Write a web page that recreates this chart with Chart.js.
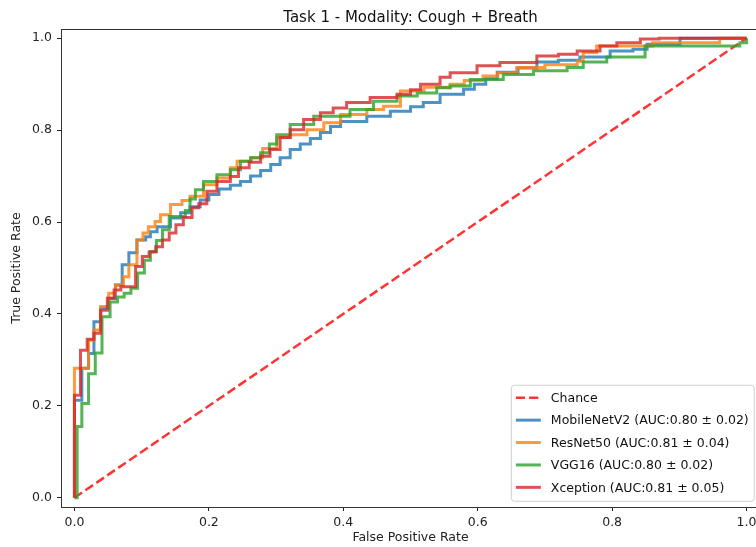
<!DOCTYPE html>
<html>
<head>
<meta charset="utf-8">
<script src="https://cdn.jsdelivr.net/npm/chart.js@4.4.0/dist/chart.umd.min.js"></script>
<style>
  html, body { margin: 0; padding: 0; overflow: hidden; background: #fff; }
  #wrap { width: 770px; height: 547px; }
</style>
</head>
<body>
<div id="wrap"><canvas id="roc_chart" width="770" height="547"></canvas></div>
<script>
// values
const chanceFpr = [0, 1];
const chanceTpr = [0, 1];

const mobilenetFpr = [0, 0, 0.011, 0.021, 0.029, 0.039, 0.051, 0.061, 0.071, 0.081, 0.093, 0.106, 0.113, 0.123, 0.143, 0.158, 0.172, 0.187, 0.200, 0.215, 0.232, 0.247, 0.262, 0.277, 0.292, 0.306, 0.321, 0.336, 0.351, 0.366, 0.381, 0.396, 0.435, 0.470, 0.500, 0.519, 0.544, 0.579, 0.595, 0.612, 0.629, 0.660, 0.688, 0.720, 0.752, 0.797, 0.831, 0.852, 0.901, 1.0];
const mobilenetTpr = [0, 0.212, 0.282, 0.314, 0.383, 0.413, 0.434, 0.463, 0.507, 0.533, 0.561, 0.568, 0.579, 0.590, 0.609, 0.620, 0.633, 0.648, 0.660, 0.672, 0.680, 0.688, 0.700, 0.712, 0.725, 0.740, 0.758, 0.770, 0.782, 0.795, 0.808, 0.819, 0.830, 0.841, 0.851, 0.860, 0.878, 0.889, 0.900, 0.912, 0.926, 0.935, 0.948, 0.952, 0.959, 0.972, 0.976, 0.987, 1.0, 1.0];

const resnetFpr = [0, 0, 0.021, 0.029, 0.039, 0.051, 0.061, 0.073, 0.081, 0.093, 0.102, 0.110, 0.120, 0.128, 0.143, 0.160, 0.172, 0.192, 0.212, 0.232, 0.242, 0.263, 0.280, 0.301, 0.321, 0.346, 0.371, 0.396, 0.435, 0.460, 0.485, 0.520, 0.559, 0.580, 0.608, 0.630, 0.658, 0.700, 0.748, 0.757, 0.777, 0.860, 0.960, 1.0];
const resnetTpr = [0, 0.282, 0.343, 0.365, 0.416, 0.445, 0.463, 0.481, 0.507, 0.561, 0.576, 0.590, 0.601, 0.616, 0.638, 0.647, 0.656, 0.681, 0.696, 0.718, 0.732, 0.740, 0.760, 0.784, 0.790, 0.801, 0.816, 0.834, 0.845, 0.852, 0.885, 0.893, 0.900, 0.908, 0.918, 0.925, 0.936, 0.942, 0.950, 0.969, 0.983, 0.990, 1.0, 1.0];

const vggFpr = [0, 0.004, 0.011, 0.021, 0.031, 0.041, 0.053, 0.064, 0.074, 0.084, 0.094, 0.104, 0.113, 0.122, 0.131, 0.141, 0.165, 0.172, 0.180, 0.192, 0.212, 0.232, 0.247, 0.262, 0.277, 0.290, 0.301, 0.321, 0.356, 0.410, 0.445, 0.480, 0.510, 0.539, 0.559, 0.589, 0.638, 0.683, 0.733, 0.757, 0.792, 0.849, 0.990, 1.0];
const vggTpr = [0, 0.155, 0.205, 0.270, 0.315, 0.394, 0.426, 0.437, 0.445, 0.456, 0.489, 0.517, 0.536, 0.560, 0.583, 0.612, 0.625, 0.650, 0.670, 0.688, 0.703, 0.714, 0.732, 0.740, 0.751, 0.770, 0.790, 0.812, 0.830, 0.845, 0.863, 0.874, 0.881, 0.892, 0.896, 0.910, 0.921, 0.929, 0.936, 0.948, 0.959, 0.983, 0.990, 1.0];

const xceptionFpr = [0, 0, 0.009, 0.019, 0.029, 0.039, 0.049, 0.059, 0.069, 0.091, 0.101, 0.111, 0.121, 0.131, 0.141, 0.151, 0.162, 0.175, 0.185, 0.197, 0.212, 0.232, 0.244, 0.260, 0.277, 0.291, 0.306, 0.321, 0.341, 0.366, 0.385, 0.405, 0.440, 0.480, 0.500, 0.515, 0.544, 0.559, 0.599, 0.633, 0.688, 0.720, 0.748, 0.782, 0.807, 0.842, 0.870, 1.0];
const xceptionTpr = [0, 0.223, 0.321, 0.345, 0.358, 0.408, 0.434, 0.452, 0.459, 0.503, 0.525, 0.535, 0.546, 0.561, 0.576, 0.594, 0.610, 0.631, 0.640, 0.667, 0.688, 0.699, 0.718, 0.730, 0.743, 0.758, 0.784, 0.801, 0.823, 0.838, 0.848, 0.860, 0.871, 0.878, 0.888, 0.900, 0.915, 0.925, 0.940, 0.947, 0.961, 0.965, 0.972, 0.983, 0.990, 0.998, 1.0, 1.0];

const seriesLabels = ['Chance', 'MobileNetV2 (AUC:0.80 ± 0.02)', 'ResNet50 (AUC:0.81 ± 0.04)', 'VGG16 (AUC:0.80 ± 0.02)', 'Xception (AUC:0.81 ± 0.05)'];
const tickValues = [0, 0.2, 0.4, 0.6, 0.8, 1.0];
const chartTitle = 'Task 1 - Modality: Cough + Breath';

const FONT = 'DejaVu Sans';
const toPoints = (xs, ys) => xs.map((x, i) => ({ x: x, y: ys[i] }));

// title, top spine and matplotlib style legend
const mplExtras = {
  id: 'mplExtras',
  afterDraw(chart) {
    const ctx = chart.ctx;
    const area = chart.chartArea;
    ctx.save();

    ctx.strokeStyle = '#333';
    ctx.lineWidth = 1;
    ctx.beginPath();
    ctx.moveTo(area.left, area.top + 0.5);
    ctx.lineTo(area.right, area.top + 0.5);
    ctx.stroke();

    ctx.fillStyle = '#111';
    ctx.font = '15px "' + FONT + '"';
    ctx.textAlign = 'center';
    ctx.textBaseline = 'alphabetic';
    ctx.fillText(chartTitle, (area.left + area.right) / 2, 22);

    // legend, lower right
    const fs = 12.5;
    ctx.font = fs + 'px "' + FONT + '"';
    const sets = chart.data.datasets;
    let maxW = 0;
    sets.forEach(ds => { maxW = Math.max(maxW, ctx.measureText(ds.label).width); });
    const pad = 5, handleLen = 25, handlePad = 10, rowH = 22.4;
    const boxW = pad * 2 + handleLen + handlePad + maxW;
    const boxH = pad * 2 + rowH * sets.length - 6;
    const boxR = area.right - 6.25;
    const boxB = area.bottom - 6.25;
    const boxL = boxR - boxW;
    const boxT = boxB - boxH;

    ctx.beginPath();
    ctx.roundRect(boxL + 0.5, boxT + 0.5, boxW, boxH, 3);
    ctx.fillStyle = 'rgba(255,255,255,0.8)';
    ctx.fill();
    ctx.strokeStyle = '#d0d0d0';
    ctx.lineWidth = 1;
    ctx.stroke();

    ctx.textAlign = 'left';
    ctx.textBaseline = 'middle';
    sets.forEach((ds, i) => {
      const cy = boxT + pad + 8 + i * rowH;
      ctx.beginPath();
      ctx.setLineDash(ds.borderDash || []);
      ctx.strokeStyle = ds.borderColor;
      ctx.lineWidth = ds.borderWidth;
      ctx.moveTo(boxL + pad, cy);
      ctx.lineTo(boxL + pad + handleLen, cy);
      ctx.stroke();
      ctx.setLineDash([]);
      ctx.fillStyle = '#111';
      ctx.fillText(ds.label, boxL + pad + handleLen + handlePad, cy + 1);
    });
    ctx.restore();
  }
};

const roc_chart = document.getElementById('roc_chart');

new Chart(roc_chart, {
  type: 'line',
  data: {
    datasets: [
      { label: seriesLabels[0], data: toPoints(chanceFpr, chanceTpr), borderColor: 'rgba(255, 0, 0, 0.8)', borderWidth: 2.5, borderDash: [9.25, 4], order: 5 },
      { label: seriesLabels[1], data: toPoints(mobilenetFpr, mobilenetTpr), borderColor: 'rgba(31, 119, 180, 0.8)', borderWidth: 3, stepped: 'before', order: 4 },
      { label: seriesLabels[2], data: toPoints(resnetFpr, resnetTpr), borderColor: 'rgba(255, 127, 14, 0.8)', borderWidth: 3, stepped: 'before', order: 3 },
      { label: seriesLabels[3], data: toPoints(vggFpr, vggTpr), borderColor: 'rgba(44, 160, 44, 0.8)', borderWidth: 3, stepped: 'before', order: 2 },
      { label: seriesLabels[4], data: toPoints(xceptionFpr, xceptionTpr), borderColor: 'rgba(214, 39, 40, 0.8)', borderWidth: 3, stepped: 'before', order: 1 }
    ]
  },
  options: {
    responsive: false,
    animation: false,
    devicePixelRatio: 1,
    layout: { padding: { left: 0, top: 29, right: 10, bottom: 0 } },
    elements: {
      point: { radius: 0 },
      line: { tension: 0, fill: false, borderCapStyle: 'butt', borderJoinStyle: 'miter' }
    },
    plugins: {
      legend: { display: false },
      title: { display: false },
      tooltip: { enabled: false }
    },
    scales: {
      x: {
        type: 'linear',
        min: -0.02,
        max: 1.02,
        afterBuildTicks: scale => { scale.ticks = tickValues.map(v => ({ value: v })); },
        afterFit: scale => { scale.height = 40; },
        grid: { drawOnChartArea: false, drawTicks: true, tickLength: 4, tickColor: '#222', tickWidth: 1 },
        border: { display: true, color: '#333', width: 1 },
        ticks: {
          padding: 4,
          color: '#222',
          font: { family: FONT, size: 12.5 },
          maxRotation: 0,
          callback: v => v.toFixed(1)
        },
        title: {
          display: true,
          text: 'False Positive Rate',
          color: '#222',
          font: { family: FONT, size: 12.5 },
          padding: { top: 0, bottom: 1.5 }
        }
      },
      y: {
        type: 'linear',
        min: -0.02,
        max: 1.02,
        afterBuildTicks: scale => { scale.ticks = tickValues.map(v => ({ value: v })); },
        afterFit: scale => { scale.width = 61; },
        grid: { drawOnChartArea: false, drawTicks: true, tickLength: 4, tickColor: '#222', tickWidth: 1 },
        border: { display: true, color: '#333', width: 1 },
        ticks: {
          padding: 5,
          color: '#222',
          font: { family: FONT, size: 12.5 },
          callback: v => v.toFixed(1)
        },
        title: {
          display: true,
          text: 'True Positive Rate',
          color: '#222',
          font: { family: FONT, size: 12.5 },
          padding: { top: 9.5, bottom: 0 }
        }
      }
    }
  },
  plugins: [mplExtras]
});
</script>
</body>
</html>
